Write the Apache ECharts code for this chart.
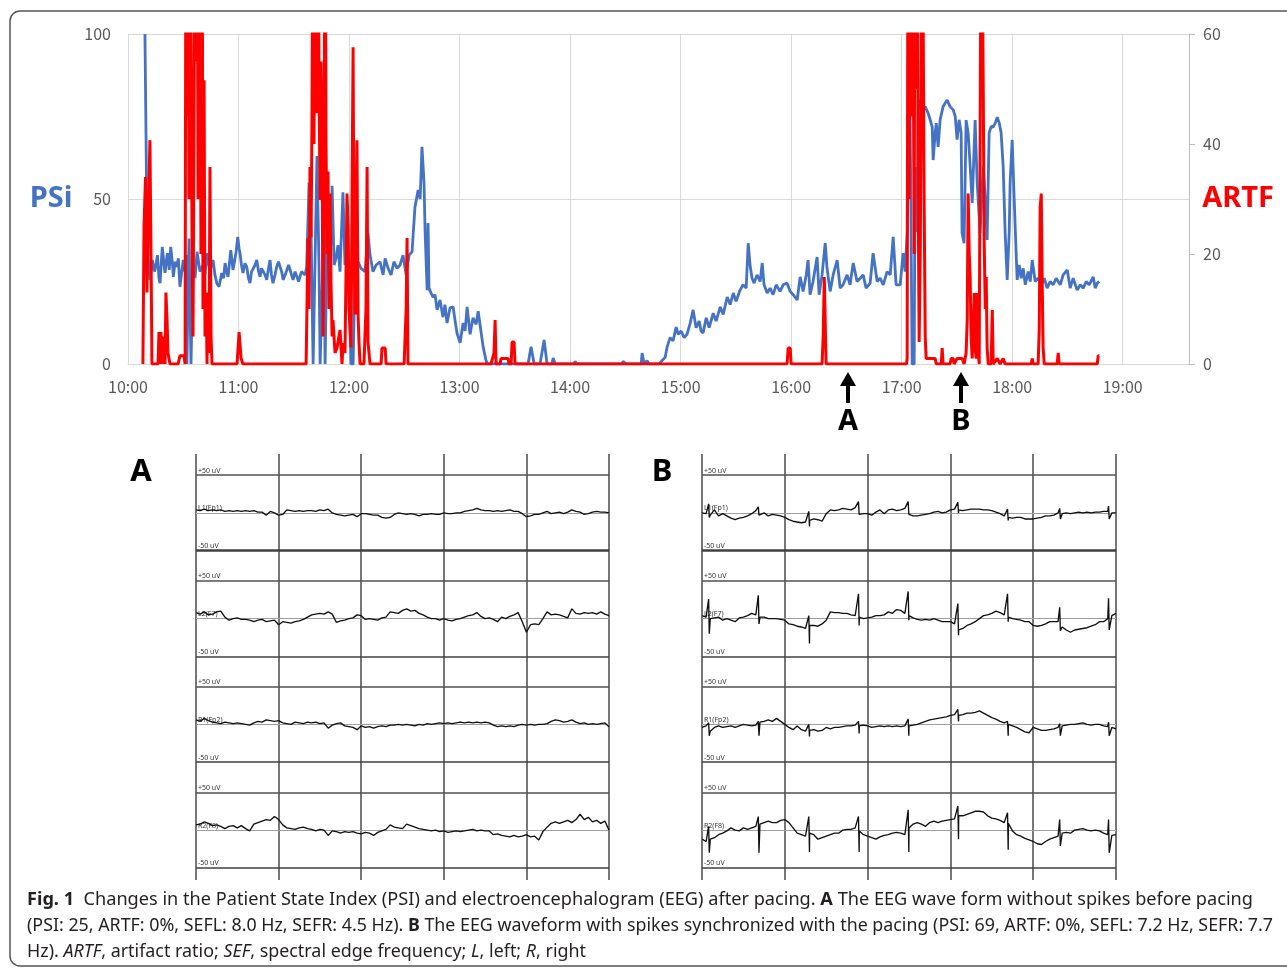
<!DOCTYPE html>
<html><head><meta charset="utf-8">
<script src="https://cdn.jsdelivr.net/npm/echarts@6/dist/echarts.min.js"></script>
<style>html,body{margin:0;padding:0;background:#fff}#c{width:1287px;height:971px}</style>
</head><body><div id="c"></div>
<script>
// ---------- Top chart: minutes after 10:00 ----------
const psiSeries = [[9.2,100],[9.8,100],[10.3,42],[11.2,30],[11.9,25.5],[13.2,31.5],[14.4,28],[15.0,29.4],[16.0,33],[16.8,26],[17.4,24.5],[18.6,35.5],[19.6,30],[20.1,27.6],[21.0,32],[21.4,33.6],[22.4,28.5],[23.2,35.5],[24.2,30],[24.6,26.4],[25.6,31],[26.4,29.4],[27.3,32],[28.2,23.4],[29.2,28],[30.0,31.5],[30.9,28],[31.5,33],[32.0,0],[32.6,0],[33.1,38],[33.7,38],[34.2,0],[34.8,0],[35.3,30],[36.4,26],[37.5,34],[39.1,28],[40.7,30],[41.8,27],[42.7,33.6],[44.5,27.6],[45.3,30],[46.2,31.5],[47.2,27],[48.2,24.5],[49.4,23.4],[50.9,27.6],[51.9,26],[52.7,30.6],[53.5,28],[54.3,26.4],[55.8,34.5],[57.0,28.5],[57.8,31],[58.6,33.6],[59.6,38.5],[60.3,35],[60.8,33.6],[61.6,30],[62.4,27.6],[63.5,30.5],[64.5,29.4],[65.4,26],[66.2,24.5],[67.1,28],[67.9,27.6],[69.0,30],[69.9,31.5],[70.9,28],[71.7,26.4],[72.5,29],[73.3,28.5],[74.4,27],[75.3,25.5],[76.3,29],[77.1,31.5],[77.9,27],[78.7,24.5],[79.8,27],[80.7,29.4],[81.7,31],[82.5,31.5],[83.4,28],[84.2,25.5],[85.3,27],[86.2,27.6],[87.2,30],[88.0,29.4],[88.8,27],[89.6,25.5],[90.7,28],[91.6,27.6],[92.6,25],[93.4,25.5],[94.2,28],[95.0,28.5],[96.1,27],[97.0,29.4],[98.3,55],[99.4,40],[100.5,0],[101.5,0],[102.6,63],[103.7,30],[104.3,0],[105.3,20],[106.4,44],[107.0,0],[108.1,40],[109.7,28],[110.8,54],[111.9,30],[112.9,32],[114.0,36],[115.1,28],[116.7,52],[117.8,30],[118.9,32],[120.0,20],[121.1,0],[122.2,0],[123.3,30],[124.9,31],[126.5,29],[128.7,28],[130.3,39.7],[131.4,33],[133.0,28],[134.7,30],[136.8,31],[138.5,27],[139.6,32],[141.2,29],[142.8,27],[144.4,31],[146.1,29],[147.7,30],[149.3,33],[151.0,27],[152.6,33],[154.2,34],[155.8,47.6],[157.5,52.7],[158.6,50],[159.6,65.8],[160.7,55],[161.3,40],[162.4,22.4],[162.9,42.7],[163.4,23],[164.5,21.5],[165.6,20.3],[166.7,21],[167.8,16.4],[169.4,19.4],[171.0,14.2],[172.1,18],[173.2,12.4],[174.8,17],[176.5,17.3],[177.6,13],[178.6,9.4],[180.3,6.4],[181.9,12.4],[183.0,10],[184.1,17.3],[185.7,9],[187.3,14],[189.0,12],[190.1,16],[191.1,15.4],[192.8,5.2],[194.4,1],[195.0,0],[217.2,0],[218.8,5.2],[220.5,0],[223.7,0],[225.9,7.3],[227.5,0],[230.2,0],[230.8,1.8],[231.9,0],[242.2,0],[242.7,0.8],[243.8,0],[268.2,0],[268.8,0.8],[270.4,0],[278.6,0],[279.1,3.3],[280.2,0],[281.8,1],[282.9,0],[288.3,0],[289.9,1],[291.6,2],[292.7,5.2],[294.3,8],[295.9,7],[297.6,11.2],[298.7,9],[300.3,10],[301.9,8],[303.5,9],[305.2,12.4],[306.8,16.4],[308.4,11],[310.1,13],[311.1,10],[312.2,9.4],[313.9,14],[315.5,11],[317.7,15.4],[319.3,13],[321.5,17.3],[323.1,15],[325.3,20.3],[326.9,18],[328.6,21.5],[330.1,19],[332.3,22.4],[333.9,24],[335.6,23],[336.7,36.6],[337.7,30],[338.8,26],[339.9,24.5],[341.5,27],[343.2,25],[344.3,30.6],[345.3,24],[347.0,21.5],[348.6,23],[350.2,21],[351.9,24],[354.0,22],[355.7,24],[357.8,24.5],[359.5,22],[361.1,21],[363.3,19.4],[364.9,26.4],[366.5,22],[368.2,27],[369.2,31.5],[370.3,21],[371.9,25],[374.1,32.4],[375.2,21],[376.8,27],[378.5,36.6],[379.5,29],[381.2,22],[382.8,27],[385.0,31.5],[386.6,23],[388.2,24],[390.4,27],[392.0,24],[393.7,30.6],[395.8,25],[397.5,26],[399.1,27],[400.7,23],[402.9,24.5],[404.5,33.6],[406.7,25],[408.3,26],[410.0,24],[412.1,28],[413.8,27],[415.4,38.5],[417.0,24],[419.2,24],[420.8,33.6],[421.9,28],[423.0,40],[423.5,76],[424.6,76],[425.7,0],[426.8,0],[427.3,59.7],[428.4,40],[429.0,80],[430.1,79],[431.1,76],[432.8,78],[434.4,76],[435.5,74],[436.6,71.8],[437.1,61.8],[438.2,70],[438.8,73],[439.8,65.8],[440.9,74],[442.5,78],[444.7,80],[446.3,78],[448.0,77],[449.1,75],[450.1,68],[451.2,74],[452.3,70],[452.8,39.7],[453.9,36.6],[455.0,73.9],[456.1,70],[457.2,60],[458.3,48.8],[459.9,73.9],[461.0,55],[462.6,39.7],[464.3,60],[465.4,50],[466.4,37.6],[467.5,70],[468.6,72],[469.7,71.8],[470.8,73],[471.9,74.8],[473.0,73],[474.0,70],[475.1,60],[476.2,39.7],[477.3,25.5],[478.4,40],[478.9,55],[480.0,67.9],[481.1,50],[482.2,33],[482.7,25.5],[483.8,30],[484.9,26],[486.0,29],[487.1,24],[488.7,28],[489.8,25],[490.9,31.5],[492.5,25],[494.1,26],[495.8,24],[497.4,26],[499.0,23],[500.6,25],[502.3,24],[503.9,26],[506.1,24],[507.7,27],[509.9,28.5],[511.5,23],[513.1,26],[515.3,22.4],[517.0,24],[518.6,23],[520.2,25],[521.8,24],[524.0,26.4],[525.1,23],[526.2,24.5],[527.3,25]];

const artfSeries = [[8.1,0],[8.7,25],[9.5,34],[10.3,13],[10.9,25],[11.9,40.7],[12.5,20],[13.0,0],[16.3,0],[16.8,5.8],[17.4,0],[17.9,5.8],[18.5,0],[19.0,5],[20.1,0],[20.6,13],[21.2,8],[21.7,2],[22.8,0],[27.2,0],[28.2,1.5],[30.4,1.5],[31.0,0],[31.5,100],[32.0,45],[32.6,100],[33.1,30],[33.7,100],[34.2,60],[34.8,20],[35.3,5],[35.8,40],[36.4,100],[36.9,55],[37.5,100],[38.0,30],[38.6,51.6],[39.1,100],[39.6,20],[40.2,100],[40.7,10],[41.3,51.6],[41.8,5],[42.4,13],[42.9,0],[43.4,13],[44.0,2],[44.5,35.8],[45.1,5],[45.6,0],[59.2,0],[60.3,5.8],[61.4,1],[62.4,0],[96.7,0],[97.2,0],[97.7,22.9],[98.3,10],[98.8,35.8],[99.4,23],[99.9,45.6],[100.5,100],[101.0,40],[101.5,100],[102.1,60],[102.6,45.6],[103.2,100],[103.7,50],[104.3,29.8],[104.8,55],[105.3,40.7],[105.9,5],[106.4,30],[107.0,100],[107.5,40],[108.1,20],[108.6,35],[109.1,10],[109.7,31],[110.2,15],[110.8,5],[111.3,8],[112.4,2],[113.5,3],[115.1,6.2],[116.2,0],[116.7,3.8],[117.8,2],[118.9,31],[119.5,25],[120.0,10],[120.5,9.8],[121.1,3],[121.6,30],[122.2,57.6],[122.7,20],[123.3,9],[123.8,25],[124.3,40.7],[124.9,9],[125.4,4],[126.0,0],[128.1,0],[128.7,5.6],[129.2,10],[129.8,35.8],[130.3,4],[131.4,0],[137.4,0],[137.9,2.9],[139.6,2.9],[140.1,0],[149.9,0],[151.0,10],[151.5,22.9],[152.0,0],[197.1,0],[198.7,2],[199.3,8],[199.8,0],[202.0,0],[202.5,1],[206.3,1],[206.9,0],[208.0,0],[208.5,4],[209.6,4],[210.1,0],[357.8,0],[358.4,2.9],[359.5,2.9],[360.0,0],[376.8,0],[377.4,5],[378.0,15.8],[378.5,15.8],[379.0,0],[422.6,0],[423.0,1],[423.5,100],[424.1,30],[424.6,100],[425.2,45],[425.7,100],[426.3,60],[426.8,20],[427.3,100],[427.9,50],[428.4,100],[429.0,30],[429.5,4],[430.1,20],[430.6,50],[431.1,100],[431.7,100],[432.2,30],[432.8,5],[433.3,1],[433.9,1],[438.2,1],[438.8,0],[441.5,0],[442.0,2.9],[442.5,0],[446.3,0],[446.9,1],[448.0,1],[448.5,0],[450.1,1],[452.9,1],[453.9,0],[455.0,2],[455.6,8],[456.1,31],[456.7,20],[457.2,15.8],[457.7,5],[458.3,1],[458.8,5],[459.4,12.9],[459.9,3],[460.5,1],[461.0,12.9],[461.6,2],[462.1,0],[462.6,40],[463.2,100],[463.7,100],[464.3,50],[464.8,22.5],[465.4,10],[465.9,15.8],[466.4,3],[467.0,0],[468.6,0],[469.2,9.8],[469.7,0],[471.9,1],[473.5,0],[475.1,1],[476.2,0],[490.3,0],[490.9,1],[491.4,0],[494.1,0],[494.7,6.2],[495.2,28.5],[495.8,31],[496.3,15],[496.8,3],[497.4,0],[504.4,0],[505.0,2],[505.5,0],[526.2,0],[526.7,1.5],[527.3,1.5]];

const annotTimes = [391, 452];
const annotLabels = ['A', 'B'];

// ---------- EEG traces (uV, one sample every 0.05 s over 5 s) ----------
const eegA1 = [4,3,5,3,4,3,4,2,3,2, 3,2,3,2,3,1,1,-3,2,0, -3,-2,4,3,2,3,2,3,3,2, 4,3,5,0,-2,-3,-4,-3,-2,-5, -1,-1,-2,-3,-3,-6,-7,-6,-2,0, -1,-2,-1,-2,-4,-2,-2,-1,-2,-2, 0,-1,-1,0,0,2,3,4,6,4, 3,3,2,3,2,3,4,2,2,-1, -5,-4,-2,-2,0,2,-1,0,1,-1, 1,4,2,1,-2,-1,1,2,1,1, 0];
const eegA2 = [8,6,9,5,6,9,10,2,-2,0, 1,-1,-1,-2,-4,-2,-1,-4,-3,-2, -8,-4,-5,-6,-4,-3,-1,2,5,6, 7,6,9,6,-5,-3,-2,0,1,5, 4,-1,0,-1,-2,1,2,9,8,7, 11,13,10,11,7,5,2,0,0,-2, 0,-2,-3,-1,0,2,4,5,8,3, 0,1,-1,-4,2,0,3,5,8,-4, -18,-8,-7,-8,0,9,5,6,5,3, 1,13,7,6,8,7,8,6,9,6, 4];
const eegA3 = [6,4,8,5,3,2,1,3,2,1, 2,1,0,-1,2,4,3,6,5,4, 5,2,1,0,3,2,1,3,2,3, 1,2,-5,-1,1,2,-2,-3,-4,-7, -2,-4,-3,-5,-3,-2,-3,-1,-1,0, -1,0,-1,-2,0,-1,1,0,1,2, 1,2,1,2,3,2,3,2,3,2, 3,2,-1,-3,-2,-3,-2,-3,-1,0, -1,0,-1,0,0,1,4,6,5,3, 4,6,3,1,2,0,1,0,1,2, -3];
const eegA4 = [7,8,11,9,6,7,5,2,5,6, 3,6,2,-1,8,10,12,14,13,18, 14,7,3,2,1,3,4,2,1,-1, 1,0,-7,-1,-2,-4,-2,-3,-2,-4, -5,-3,-4,-7,-3,-1,1,7,4,3, 2,8,6,4,2,1,0,-1,0,-2, -1,-3,-2,-1,-2,-1,0,1,-1,0, -1,-1,-6,-5,-7,-8,-9,-7,-9,-8, -6,-9,-8,-13,-2,4,9,11,9,11, 13,10,14,21,14,17,11,13,9,12, 0];
const eegB1 = [0,-1,-3,4,-4,-1,-4,-7,-9,-7, -6,-4,-1,3,-3,0,-4,-2,-3,-4, -6,-9,-11,-12,-13,-12,-10,-8,-9,-11, -1,4,3,4,6,5,4,7,0,-1, -1,-3,1,4,-1,4,5,3,4,6, -1,-4,-4,-3,-2,-1,1,2,0,1, 4,5,4,3,4,5,5,5,4,4, 3,1,-1,-4,-6,-7,-6,-6,-8,-8, -8,-7,-6,-4,-4,-3,0,-1,0,-1, 0,1,0,1,0,1,1,2,2,0, 0];
const eegB2 = [4,2,0,1,2,-2,0,-2,-4,1, 2,4,7,5,2,2,0,0,0,-1, -2,-7,-8,-10,-11,-13,-9,-9,-10,-7, -2,9,8,8,7,7,5,4,2,0, 1,2,4,4,5,9,7,12,11,7, 4,1,-1,-2,-1,-2,0,-2,-4,-4, -4,-7,-15,-13,-9,-7,-4,0,4,5, 7,10,8,5,2,0,-1,-2,-4,-4, -9,-10,-9,-7,-4,-4,-4,-11,-15,-18, -15,-14,-13,-12,-10,-8,-4,-4,0,4, 7];
const eegB3 = [-4,-2,-9,-4,-2,-4,-3,-2,-4,-2, 0,-1,-2,-1,3,4,6,4,8,4, 0,-4,-7,-2,-7,-9,-8,-7,-9,-8, -4,-6,-4,-4,-3,-2,-2,-1,-2,-1, -2,-4,-3,-2,-3,-2,-3,-2,-3,-2, -2,-1,0,2,4,6,7,8,9,10, 12,13,12,13,15,15,16,18,15,12, 9,7,4,2,0,-2,-4,-7,-10,-11, -4,-6,-8,-8,-7,-6,-4,-2,-1,0, 0,1,2,0,-1,0,0,-2,-3,-4, -6];
const eegB4 = [-12,-15,-12,-10,-6,-4,-1,3,0,-1, 3,1,3,5,8,10,12,10,10,13, 14,10,3,-4,-6,-8,-4,-6,-12,-10, -8,-6,-4,-4,0,1,1,3,-1,-6, -8,-10,-12,-9,-7,-6,-4,-3,-4,-6, 3,8,10,8,5,10,12,10,12,13, 14,15,19,19,21,23,25,25,24,19, 16,15,13,10,9,-1,-6,-8,-11,-13, -15,-18,-19,-15,-12,-10,-8,-4,-3,-4, 0,1,2,0,-1,0,-1,-4,-6,-7, -6];
// pacing spikes in panel B (seconds) and their peak / trough values (uV)
const spikeTimesB = [0.08, 0.68, 1.29, 1.89, 2.49, 3.09, 3.69, 4.32, 4.91];
const spikeUpB = [[12,8,2,15,15,14,5,6,9],[26,31,4,33,36,20,33,15,27],[2,4,0,4,7,20,4,1,3],[5,18,18,18,27,32,23,14,14]];
const spikeDownB = [[-6,-3,-18,-2,-2,0,-10,-8,-8],[-20,-7,-33,-9,-2,-22,-4,-16,-15],[-15,-15,-16,-12,-15,4,-15,-15,-15],[-30,-30,-29,-29,-29,-12,-26,-21,-30]];
const channelNames = ['L1(Fp1)', 'L2(F7)', 'R1(Fp2)', 'R2(F8)'];

// ---------- layout helpers ----------
const SAMPLE = 0.05;
const chanOffsets = [420, 280, 140, 0];
const FONT_AX = "'Noto Sans CJK JP', 'Noto Sans', sans-serif";
const FONT_TX = "'Noto Sans', sans-serif";

function eegData(vals, offset, spikes) {
  const pts = vals.map((v, i) => [+(i * SAMPLE).toFixed(3), v + offset]);
  if (spikes) {
    spikeTimesB.forEach((t, k) => {
      pts.push([t, spikes.up[k] + offset]);
      pts.push([t + 0.008, spikes.down[k] + offset]);
    });
    pts.sort((a, b) => a[0] - b[0]);
  }
  return pts;
}

function refLines() {
  const d = [];
  chanOffsets.forEach((o, c) => {
    const lab = (txt) => ({show: true, formatter: txt, position: 'insideStartTop', distance: [2, 1], fontSize: 7, color: '#333', fontFamily: FONT_TX});
    d.push({yAxis: o + 50, lineStyle: {color: '#505050', width: 1.5, type: 'solid'}, label: lab('+50 uV')});
    d.push({yAxis: o, lineStyle: {color: '#a0a0a0', width: 1, type: 'solid'}, label: lab(channelNames[c])});
    d.push({yAxis: o - 50, lineStyle: {color: '#404040', width: c === 0 ? 2.6 : 1.5, type: 'solid'}, label: lab('-50 uV')});
  });
  return d;
}

const eegPanels = [[eegA1, eegA2, eegA3, eegA4], [eegB1, eegB2, eegB3, eegB4]];
const eegSeries = [];
eegPanels.forEach((chs, p) => {
  chs.forEach((vals, c) => {
    const spikes = p === 1 ? {up: spikeUpB[c], down: spikeDownB[c]} : null;
    const s = {
      type: 'line', xAxisIndex: 1 + p, yAxisIndex: 2 + p,
      data: eegData(vals, chanOffsets[c], spikes),
      showSymbol: false, symbol: 'none', silent: true, animation: false, z: 5,
      lineStyle: {color: '#111', width: 1.35}
    };
    if (c === 0) {
      s.markLine = {silent: true, animation: false, symbol: ['none', 'none'], data: refLines(), z: 3};
    }
    eegSeries.push(s);
  });
});

const eegX = (gi) => ({gridIndex: gi, type: 'value', min: 0, max: 5, interval: 1,
  axisLine: {show: false}, axisTick: {show: false}, axisLabel: {show: false},
  splitLine: {show: true, lineStyle: {color: '#4a4a4a', width: 1.5}}});
const eegY = (gi) => ({gridIndex: gi, type: 'value', min: -66, max: 498,
  axisLine: {show: false}, axisTick: {show: false}, axisLabel: {show: false}, splitLine: {show: false}});

// ---------- caption ----------
const cap1 = '{b|Fig. 1}  Changes in the Patient State Index (PSI) and electroencephalogram (EEG) after pacing. {b|A} The EEG wave form without spikes before pacing';
const cap2 = '(PSI: 25, ARTF: 0%, SEFL: 8.0 Hz, SEFR: 4.5 Hz). {b|B} The EEG waveform with spikes synchronized with the pacing (PSI: 69, ARTF: 0%, SEFL: 7.2 Hz, SEFR: 7.7';
const cap3 = 'Hz). {i|ARTF}, artifact ratio; {i|SEF}, spectral edge frequency; {i|L}, left; {i|R}, right';
const capWidths = [1226, 1246, 559];
const CAP_SIZE = 18;
const ctx = document.createElement('canvas').getContext('2d');
function measureRich(txt) {
  let w = 0, last = 0;
  const re = /\{([bi])\|([^}]*)\}/g;
  let m;
  const seg = (s, style) => { ctx.font = style + CAP_SIZE + "px 'Noto Sans'"; w += ctx.measureText(s).width; };
  while ((m = re.exec(txt)) !== null) {
    seg(txt.slice(last, m.index), '');
    seg(m[2], m[1] === 'b' ? 'bold ' : 'italic ');
    last = re.lastIndex;
  }
  seg(txt.slice(last), '');
  return w;
}
const capRich = {
  b: {fontWeight: 'bold', fontSize: CAP_SIZE, fontFamily: FONT_TX, fill: '#231f20'},
  i: {fontStyle: 'italic', fontSize: CAP_SIZE, fontFamily: FONT_TX, fill: '#231f20'}
};
function capText(id, txt, y, target) {
  const sc = target / measureRich(txt);
  return {type: 'text', id: id, x: 27, y: y, scaleX: sc, scaleY: 1, silent: true,
    style: {text: txt, rich: capRich, fontSize: CAP_SIZE, fontFamily: FONT_TX, fill: '#231f20',
      align: 'left', verticalAlign: 'middle', textAlign: 'left', textVerticalAlign: 'middle'}};
}
function label(id, txt, x, y, size, color) {
  return {type: 'text', id: id, x: x, y: y, silent: true,
    style: {text: txt, fontSize: size, fontWeight: 'bold', fontFamily: FONT_TX, fill: color,
      align: 'center', verticalAlign: 'middle', textAlign: 'center', textVerticalAlign: 'middle'}};
}

const baseGraphics = [
  {type: 'rect', id: 'frame', z: -10, silent: true, shape: {x: 10, y: 11, width: 1300, height: 955, r: 10},
    style: {fill: 'none', stroke: '#555', lineWidth: 1.5}},
  label('psi', 'PSi', 51, 199, 29, '#4472C4'),
  label('artf', 'ARTF', 1238, 199, 29, '#FF0000'),
  label('pa', 'A', 141, 472, 31, '#000'),
  label('pb', 'B', 662, 472, 31, '#000'),
  capText('c1', cap1, 900, capWidths[0]),
  capText('c2', cap2, 926, capWidths[1]),
  capText('c3', cap3, 952, capWidths[2])
];

const option = {
  animation: false,
  backgroundColor: '#fff',
  grid: [
    {left: 128, top: 34, width: 1061, height: 330},
    {left: 196, top: 454, width: 413, height: 426},
    {left: 702, top: 454, width: 414, height: 426}
  ],
  xAxis: [
    {gridIndex: 0, type: 'value', min: 0, max: 576, interval: 60,
      axisLine: {show: true, lineStyle: {color: '#d9d9d9'}}, axisTick: {show: false},
      axisLabel: {showMaxLabel: false, margin: 15, color: '#595959', fontSize: 16, fontFamily: FONT_AX,
        formatter: v => (v % 60 === 0 && v <= 540) ? (10 + v / 60) + ':00' : ''},
      splitLine: {show: true, lineStyle: {color: '#d9d9d9', width: 1}}},
    eegX(1), eegX(2)
  ],
  yAxis: [
    {gridIndex: 0, type: 'value', min: 0, max: 100, interval: 50, position: 'left',
      axisLine: {show: false}, axisTick: {show: false},
      axisLabel: {margin: 17, color: '#595959', fontSize: 16, fontFamily: FONT_AX},
      splitLine: {show: true, lineStyle: {color: '#d9d9d9', width: 1}}},
    {gridIndex: 0, type: 'value', min: 0, max: 60, interval: 20, position: 'right',
      axisLine: {show: true, lineStyle: {color: '#bfbfbf', width: 1}},
      axisTick: {show: true, length: 6, lineStyle: {color: '#bfbfbf'}},
      axisLabel: {margin: 14, color: '#595959', fontSize: 16, fontFamily: FONT_AX},
      splitLine: {show: false}},
    eegY(1), eegY(2)
  ],
  series: [
    {type: 'line', name: 'PSi', xAxisIndex: 0, yAxisIndex: 0, data: psiSeries, showSymbol: false, symbol: 'none',
      clip: true, silent: true, z: 2, lineStyle: {color: '#4472C4', width: 2.8}, itemStyle: {color: '#4472C4'}},
    {type: 'line', name: 'ARTF', xAxisIndex: 0, yAxisIndex: 1, data: artfSeries, showSymbol: false, symbol: 'none',
      clip: true, silent: true, z: 3, lineStyle: {color: '#FF0000', width: 3}, itemStyle: {color: '#FF0000'}}
  ].concat(eegSeries),
  graphic: {elements: baseGraphics}
};

const chart = echarts.init(document.getElementById('c'), null, {renderer: 'canvas', width: 1287, height: 971});
chart.setOption(option);

// arrows under the time axis, placed through the chart's own scale
const arrowEls = [];
annotTimes.forEach((t, k) => {
  const p = chart.convertToPixel({xAxisIndex: 0, yAxisIndex: 0}, [t, 0]);
  const x = Math.round(p[0]), y0 = p[1];
  arrowEls.push({type: 'polygon', id: 'ah' + k, silent: true,
    shape: {points: [[x, y0 + 8], [x - 8, y0 + 22], [x + 8, y0 + 22]]}, style: {fill: '#000'}});
  arrowEls.push({type: 'rect', id: 'as' + k, silent: true,
    shape: {x: x - 2, y: y0 + 20, width: 4, height: 19}, style: {fill: '#000'}});
  arrowEls.push(label('al' + k, annotLabels[k], x, y0 + 58, 29, '#000'));
});
chart.setOption({graphic: {elements: baseGraphics.concat(arrowEls)}});
</script>
</body></html>
